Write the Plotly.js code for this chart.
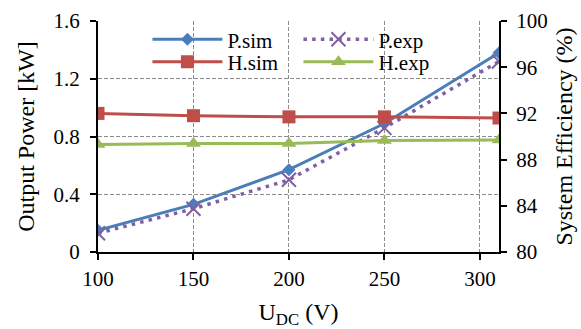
<!DOCTYPE html>
<html><head><meta charset="utf-8">
<script src="https://cdn.plot.ly/plotly-3.0.1.min.js"></script>
<style>html,body{margin:0;padding:0;background:#fff}#c{width:581px;height:329px}</style>
</head><body><div id="c"></div>
<script>
const udc = [100, 150, 200, 250, 310];
const pSim = [0.15, 0.33, 0.57, 0.89, 1.38];
const pExp = [0.13, 0.30, 0.50, 0.86, 1.32];
const hSim = [92.0, 91.8, 91.7, 91.7, 91.6];
const hExp = [89.3, 89.4, 89.4, 89.65, 89.7];
const xTicks = [100, 150, 200, 250, 300];
const yLeftTicks = [0, 0.4, 0.8, 1.2, 1.6];
const yLeftText = ['0', '0.4', '0.8', '1.2', '1.6'];
const yRightTicks = [80, 84, 88, 92, 96, 100];

const F = '"Liberation Serif", "Times New Roman", serif';
const traces = [
  {x: udc, y: pSim, name: 'P.sim', mode: 'lines+markers', yaxis: 'y', legend: 'legend',
   line: {color: '#4A7EBB', width: 3}, marker: {symbol: 'diamond', size: 10, color: '#4A7EBB'}},
  {x: udc, y: pExp, name: 'P.exp', mode: 'lines+markers', yaxis: 'y', legend: 'legend',
   line: {color: '#7F61A3', width: 3.5, dash: '3.5px,5.2px'}, marker: {symbol: 'x-thin', size: 14, color: '#7F61A3', line: {color: '#7F61A3', width: 2}}},
  {x: udc, y: hSim, name: 'H.sim', mode: 'lines+markers', yaxis: 'y2', legend: 'legend2',
   line: {color: '#BF4D4A', width: 3}, marker: {symbol: 'square', size: 13, color: '#BF4D4A'}},
  {x: udc, y: hExp, name: 'H.exp', mode: 'lines+markers', yaxis: 'y2', legend: 'legend2',
   line: {color: '#9ABA58', width: 3}, marker: {symbol: 'triangle-up', size: 13, color: '#9ABA58'}}
];
const legBase = {orientation: 'h', x: 0.1233, xanchor: 'left', yanchor: 'top',
  entrywidth: 66, entrywidthmode: 'pixels', itemwidth: 70,
  bgcolor: 'rgba(255,255,255,0)', font: {family: F, size: 21, color: '#000'}};
const ax = {showline: true, linecolor: '#000', linewidth: 2, ticks: 'outside', ticklen: 6, tickwidth: 2, tickcolor: '#000',
  zeroline: false, tickfont: {family: F, size: 21, color: '#000'}};
const layout = {
  width: 581, height: 329,
  margin: {l: 97.5, r: 82, t: 20.5, b: 77},
  paper_bgcolor: '#fff', plot_bgcolor: '#fff',
  font: {family: F, size: 21, color: '#000'},
  showlegend: true,
  legend: Object.assign({}, legBase, {y: 1.008}),
  legend2: Object.assign({}, legBase, {y: 0.911}),
  xaxis: Object.assign({}, ax, {range: [100, 310], tickvals: xTicks, ticktext: xTicks.map(String),
          showgrid: true, gridcolor: '#8c8c8c', griddash: '4px,2px', gridwidth: 1, ticklabelstandoff: 1,
          title: {text: 'U<sub>DC</sub> (V)', font: {family: F, size: 24}, standoff: 15}}),
  yaxis: Object.assign({}, ax, {range: [0, 1.6], tickvals: yLeftTicks, ticktext: yLeftText,
          showgrid: true, gridcolor: '#8c8c8c', griddash: '4px,2px', gridwidth: 1, ticklabelstandoff: 6,
          title: {text: 'Output Power [kW]', font: {family: F, size: 24}, standoff: 12}}),
  yaxis2: Object.assign({}, ax, {range: [80, 100], tickvals: yRightTicks, overlaying: 'y', side: 'right',
          showgrid: false, ticklabelstandoff: 5,
          title: {text: 'System Efficiency (%)', font: {family: F, size: 24}, standoff: 8}})
};
Plotly.newPlot('c', traces, layout, {displayModeBar: false, staticPlot: true});
</script></body></html>
